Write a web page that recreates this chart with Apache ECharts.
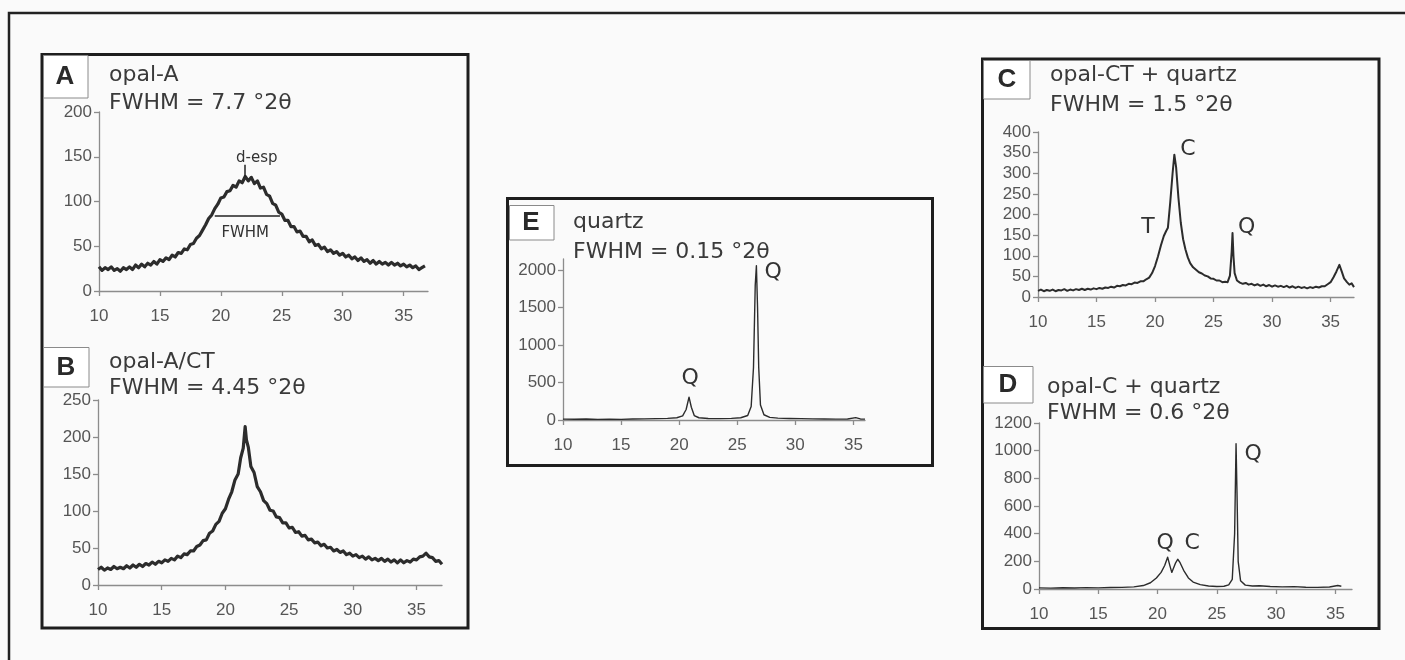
<!DOCTYPE html>
<html><head><meta charset="utf-8">
<script src="https://cdn.jsdelivr.net/npm/echarts@6/dist/echarts.min.js"></script>
<style>html,body{margin:0;padding:0;background:#fafafa}#c{width:1405px;height:660px}</style>
</head><body><div id="c"></div>
<script>
// ---- data (2θ in degrees, intensity in counts) ----
const xTicks = [10, 15, 20, 25, 30, 35];
const yTicksA = [0, 50, 100, 150, 200];
const yTicksB = [0, 50, 100, 150, 200, 250];
const yTicksE = [0, 500, 1000, 1500, 2000];
const yTicksC = [0, 50, 100, 150, 200, 250, 300, 350, 400];
const yTicksD = [0, 200, 400, 600, 800, 1000, 1200];

const opalA = [[10.00,27],[10.25,23],[10.50,26],[10.75,24],[11.00,27],[11.25,23],[11.50,25],[11.75,22],[12.00,26],[12.25,24],[12.50,27],[12.75,24],[13.00,29],[13.25,26],[13.50,30],[13.75,27],[14.00,31],[14.25,29],[14.50,33],[14.75,30],[15.00,35],[15.25,33],[15.50,37],[15.75,35],[16.00,40],[16.25,38],[16.50,43],[16.75,42],[17.00,47],[17.25,46],[17.50,52],[17.75,53],[18.00,59],[18.25,62],[18.50,68],[18.75,74],[19.00,81],[19.25,85],[19.50,92],[19.75,97],[20.00,104],[20.25,105],[20.50,111],[20.75,112],[21.00,118],[21.25,116],[21.50,123],[21.75,121],[22.00,128],[22.25,123],[22.50,127],[22.75,120],[23.00,123],[23.25,115],[23.50,116],[23.75,108],[24.00,106],[24.25,98],[24.50,96],[24.75,88],[25.00,86],[25.25,79],[25.50,79],[25.75,72],[26.00,72],[26.25,66],[26.50,67],[26.75,61],[27.00,61],[27.25,55],[27.50,57],[27.75,51],[28.00,52],[28.25,47],[28.50,49],[28.75,44],[29.00,46],[29.25,42],[29.50,44],[29.75,40],[30.00,42],[30.25,38],[30.50,40],[30.75,36],[31.00,38],[31.25,34],[31.50,37],[31.75,33],[32.00,35],[32.25,31],[32.50,34],[32.75,30],[33.00,33],[33.25,30],[33.50,32],[33.75,29],[34.00,32],[34.25,29],[34.50,31],[34.75,28],[35.00,30],[35.25,27],[35.50,29],[35.75,26],[36.00,28],[36.25,24],[36.50,26],[36.75,28]];
const opalACT = [[10.00,21],[10.25,24],[10.50,20],[10.75,23],[11.00,21],[11.25,25],[11.50,22],[11.75,24],[12.00,22],[12.25,26],[12.50,23],[12.75,27],[13.00,24],[13.25,28],[13.50,25],[13.75,29],[14.00,27],[14.25,31],[14.50,28],[14.75,32],[15.00,30],[15.25,34],[15.50,32],[15.75,36],[16.00,34],[16.25,39],[16.50,37],[16.75,42],[17.00,41],[17.25,46],[17.50,46],[17.75,52],[18.00,54],[18.25,60],[18.50,61],[18.75,70],[19.00,73],[19.25,82],[19.50,86],[19.75,97],[20.00,103],[20.25,116],[20.50,126],[20.75,142],[21.00,150],[21.20,172],[21.40,185],[21.55,214],[21.65,196],[21.80,186],[22.00,160],[22.25,152],[22.50,133],[22.75,126],[23.00,114],[23.25,110],[23.50,101],[23.75,100],[24.00,92],[24.25,91],[24.50,84],[24.75,84],[25.00,77],[25.25,78],[25.50,71],[25.75,72],[26.00,66],[26.25,67],[26.50,61],[26.75,62],[27.00,57],[27.25,58],[27.50,53],[27.75,55],[28.00,50],[28.25,51],[28.50,46],[28.75,48],[29.00,44],[29.25,46],[29.50,41],[29.75,43],[30.00,39],[30.25,41],[30.50,37],[30.75,39],[31.00,35],[31.25,38],[31.50,34],[31.75,36],[32.00,33],[32.25,36],[32.50,32],[32.75,35],[33.00,31],[33.25,34],[33.50,30],[33.75,34],[34.00,30],[34.25,33],[34.50,31],[34.75,35],[35.00,34],[35.25,38],[35.50,39],[35.75,43],[36.00,38],[36.25,37],[36.50,32],[36.75,33],[37.00,28]];
const quartz = [[10,12],[11,10],[12,14],[13,9],[14,11],[15,8],[16,13],[17,15],[18,18],[19,22],[19.8,30],[20.3,55],[20.6,140],[20.85,305],[21.05,170],[21.3,60],[21.7,30],[22.5,20],[23.5,18],[24.5,22],[25.3,30],[25.9,60],[26.2,180],[26.4,700],[26.55,1800],[26.65,2060],[26.75,1500],[26.85,700],[27.0,200],[27.3,70],[27.8,35],[28.5,25],[29.5,20],[30.5,18],[31.5,15],[32.5,14],[33.5,12],[34.5,13],[35.2,32],[35.6,14],[36.0,12]];
const opalCT = [[10.0,15],[10.25,18],[10.5,14],[10.75,17],[11.0,15],[11.25,18],[11.5,14],[11.75,17],[12.0,16],[12.25,19],[12.5,15],[12.75,18],[13.0,16],[13.25,19],[13.5,17],[13.75,20],[14.0,17],[14.25,20],[14.5,18],[14.75,21],[15.0,19],[15.25,22],[15.5,20],[15.75,23],[16.0,22],[16.25,25],[16.5,23],[16.75,27],[17.0,26],[17.25,29],[17.5,28],[17.75,32],[18.0,31],[18.25,35],[18.5,34],[18.75,38],[19.0,38],[19.25,43],[19.5,47],[19.75,58],[20.0,75],[20.25,98],[20.5,125],[20.75,148],[20.95,160],[21.1,168],[21.3,230],[21.5,300],[21.65,345],[21.8,315],[22.0,240],[22.2,180],[22.4,140],[22.6,115],[22.8,96],[23.0,82],[23.25,72],[23.5,66],[23.75,60],[24.0,57],[24.25,52],[24.5,50],[24.75,45],[25.0,44],[25.25,40],[25.5,40],[25.75,36],[26.0,37],[26.2,36],[26.4,52],[26.55,110],[26.62,155],[26.7,100],[26.8,58],[27.0,40],[27.25,35],[27.5,32],[27.75,34],[28.0,30],[28.25,32],[28.5,28],[28.75,31],[29.0,27],[29.25,30],[29.5,26],[29.75,29],[30.0,25],[30.25,28],[30.5,25],[30.75,27],[31.0,24],[31.25,27],[31.5,23],[31.75,26],[32.0,22],[32.25,25],[32.5,22],[32.75,24],[33.0,21],[33.25,24],[33.5,22],[33.75,25],[34.0,23],[34.25,26],[34.5,26],[34.75,31],[35.0,36],[35.25,48],[35.5,62],[35.75,78],[35.95,62],[36.15,45],[36.4,36],[36.6,30],[36.8,33],[37.0,24]];
const opalC = [[10.0,8],[11,6],[12,9],[13,7],[14,10],[15,8],[16,11],[17,12],[18,15],[18.8,25],[19.4,45],[19.9,80],[20.3,120],[20.6,170],[20.85,230],[21.05,165],[21.2,120],[21.5,185],[21.7,215],[21.9,190],[22.2,135],[22.6,80],[23.0,50],[23.6,32],[24.3,22],[25.0,18],[25.6,20],[26.0,30],[26.3,70],[26.5,400],[26.62,1050],[26.7,700],[26.8,200],[27.0,60],[27.4,28],[28,22],[28.6,24],[29.5,18],[30.5,15],[31.5,17],[32.5,13],[33.5,12],[34.5,14],[35.2,25],[35.5,20]];

// annotations in data coordinates
const annA = [{name:'d-esp', coord:[22.95,148]},{name:'FWHM', coord:[22.0,65]}];
const dEspTick = [[22.0,127],[22.0,141]];
const fwhmLine = [[19.5,84],[24.85,84]];
const annE = [{name:'Q', coord:[20.95,560]},{name:'Q', coord:[28.1,1973]}];
const annC = [{name:'C', coord:[22.8,359]},{name:'T', coord:[19.39,170]},{name:'Q', coord:[27.83,170]}];
const annD = [{name:'Q', coord:[20.64,333]},{name:'C', coord:[22.92,333]},{name:'Q', coord:[28.07,976]}];

// ---- layout ----
const panels = [
  {grid:{left:99, top:112, width:329, height:179}, xMax:37, yMax:200, yTicks:yTicksA, data:opalA, lw:3.2, ann:annA, annSize:15},
  {grid:{left:98, top:400, width:344, height:185}, xMax:37, yMax:250, yTicks:yTicksB, data:opalACT, lw:3.2},
  {grid:{left:563, top:259, width:302, height:161}, xMax:36, yMax:2150, yTicks:yTicksE, data:quartz, lw:1.4, ann:annE, annSize:22},
  {grid:{left:1038, top:132, width:316, height:165}, xMax:37, yMax:400, yTicks:yTicksC, data:opalCT, lw:2, ann:annC, annSize:22},
  {grid:{left:1039, top:423, width:313, height:166}, xMax:36.4, yMax:1200, yTicks:yTicksD, data:opalC, lw:1.4, ann:annD, annSize:22}
];

const axisCol = '#8c8c8c';
const labCol = '#555';
const lineCol = '#2c2c2c';
const tickFont = {color:labCol, fontFamily:'Liberation Sans', fontSize:17, formatter:v => String(v)};

const option = {
  backgroundColor:'#fafafa',
  animation:false,
  grid: panels.map(p => Object.assign({containLabel:false}, p.grid)),
  xAxis: panels.map((p,i) => ({
    gridIndex:i, type:'value', min:10, max:p.xMax, interval:5,
    axisLine:{show:true, onZero:false, lineStyle:{color:axisCol, width:1.3}},
    axisTick:{show:true, inside:false, length:5, customValues:xTicks, lineStyle:{color:axisCol, width:1.3}},
    axisLabel:Object.assign({margin:17, customValues:xTicks}, tickFont),
    splitLine:{show:false}
  })),
  yAxis: panels.map((p,i) => ({
    gridIndex:i, type:'value', min:0, max:p.yMax, interval:p.yTicks[1]-p.yTicks[0],
    axisLine:{show:true, lineStyle:{color:axisCol, width:1.3}},
    axisTick:{show:true, inside:false, length:5, customValues:p.yTicks, lineStyle:{color:axisCol, width:1.3}},
    axisLabel:Object.assign({margin:7, customValues:p.yTicks}, tickFont),
    splitLine:{show:false}
  })),
  series: panels.map((p,i) => {
    const s = {
      type:'line', xAxisIndex:i, yAxisIndex:i, data:p.data, showSymbol:false, symbol:'none',
      lineStyle:{color:lineCol, width:p.lw, join:'round'}, z:3
    };
    if (p.ann) {
      s.markPoint = {
        symbol:'circle', symbolSize:0, silent:true,
        label:{show:true, position:'inside', formatter:'{b}', color:'#333', fontFamily:'DejaVu Sans', fontSize:p.annSize},
        data:p.ann.map(a => ({name:a.name, coord:a.coord}))
      };
    }
    if (i === 0) {
      s.markLine = {
        symbol:['none','none'], silent:true, label:{show:false},
        lineStyle:{color:'#222', width:1.5, type:'solid'},
        data:[
          [{coord:fwhmLine[0]},{coord:fwhmLine[1]}],
          [{coord:dEspTick[0]},{coord:dEspTick[1]}]
        ]
      };
    }
    return s;
  }),
  graphic: [
    {type:'rect', shape:{x:9, y:13, width:1430, height:700}, style:{fill:'none', stroke:'#222', lineWidth:2.5}, z:1},
    {type:'rect', shape:{x:42, y:54.5, width:426, height:573.5}, style:{fill:'none', stroke:'#1e1e1e', lineWidth:3}, z:1},
    {type:'rect', shape:{x:507.5, y:198.5, width:425, height:267}, style:{fill:'none', stroke:'#1e1e1e', lineWidth:3}, z:1},
    {type:'rect', shape:{x:982.5, y:59, width:396.5, height:569.5}, style:{fill:'none', stroke:'#1e1e1e', lineWidth:3}, z:1},
    // letter boxes
    {type:'rect', shape:{x:43.5, y:55.5, width:44.5, height:42.5}, style:{fill:'#fff', stroke:'#8a8a8a', lineWidth:1}, z:2},
    {type:'rect', shape:{x:43.5, y:347.5, width:45.5, height:39.5}, style:{fill:'#fff', stroke:'#8a8a8a', lineWidth:1}, z:2},
    {type:'rect', shape:{x:509.5, y:205.5, width:44.5, height:34.5}, style:{fill:'#fff', stroke:'#8a8a8a', lineWidth:1}, z:2},
    {type:'rect', shape:{x:983.5, y:60.5, width:46.5, height:38.5}, style:{fill:'#fff', stroke:'#8a8a8a', lineWidth:1}, z:2},
    {type:'rect', shape:{x:983.5, y:366.5, width:49.5, height:36.5}, style:{fill:'#fff', stroke:'#8a8a8a', lineWidth:1}, z:2},
    ...[['A',65,77],['B',66,368],['E',531,223],['C',1007,80],['D',1008,385]].map(t => ({
      type:'text', x:t[1], y:t[2], z:3,
      style:{text:t[0], fill:'#2a2a2a', font:'bold 26px "Liberation Sans"', textAlign:'center', textVerticalAlign:'middle'}
    })),
    ...[['opal-A',109,75],['FWHM = 7.7 °2θ',109,103],
        ['opal-A/CT',109,362],['FWHM = 4.45 °2θ',109,388],
        ['quartz',573,222],['FWHM = 0.15 °2θ',573,252],
        ['opal-CT + quartz',1050,75],['FWHM = 1.5 °2θ',1050,105],
        ['opal-C + quartz',1047,387],['FWHM = 0.6 °2θ',1047,413]].map(t => ({
      type:'text', x:t[1], y:t[2], z:3,
      style:{text:t[0], fill:'#3a3a3a', font:'22px "DejaVu Sans"', textAlign:'left', textVerticalAlign:'middle'}
    }))
  ]
};
const chart = echarts.init(document.getElementById('c'), null, {renderer:'canvas'});
chart.setOption(option);
</script></body></html>
